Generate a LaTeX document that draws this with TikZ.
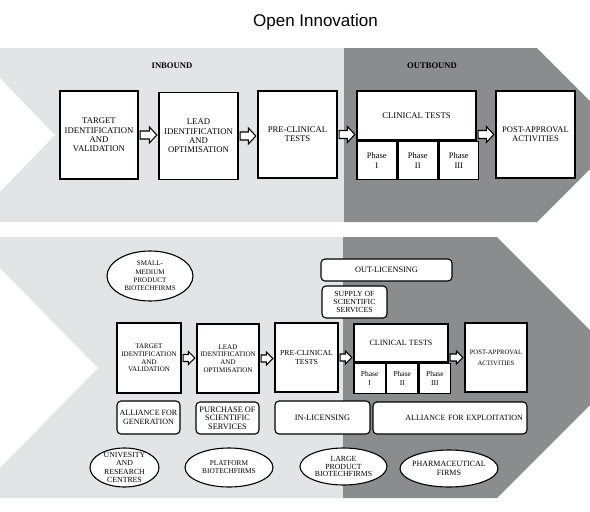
\documentclass[tikz,border=0pt]{standalone}
\usepackage{fontspec}
\setmainfont{Liberation Serif}
\newfontfamily\titlefont{Liberation Sans}
\usetikzlibrary{shapes,calc,positioning}

\definecolor{inband}{RGB}{227,228,230}
\definecolor{outband}{RGB}{139,140,142}

\begin{document}
\begin{tikzpicture}[x=1pt, y=-1pt,
    stage/.style={draw, fill=white, line width=1.3pt, inner sep=1pt, align=center},
    bigtxt/.style={font=\fontsize{8.7}{9.3}\selectfont},
    smalltxt/.style={font=\fontsize{7}{7.7}\selectfont},
    deal/.style={draw, fill=white, rounded corners=4pt, line width=1.1pt, inner sep=1pt, align=center, font=\fontsize{8}{8.4}\selectfont},
    firm/.style={ellipse, draw, fill=white, line width=1.1pt, inner sep=0pt},
    firmtext/.style={align=center, inner sep=0pt, font=\fontsize{7.8}{8.2}\selectfont},
    barrow/.style n args={3}{draw, fill=white, line width=1.1pt,
        to path={let \p1=(\tikztostart), \p2=(\tikztotarget) in
            (\x1+1.5pt,\y1+#1) -- (\x2-#3-1.5pt,\y1+#1) -- (\x2-#3-1.5pt,\y1+#2) -- (\x2-1.5pt,\y1)
            -- (\x2-#3-1.5pt,\y1-#2) -- (\x2-#3-1.5pt,\y1-#1) -- (\x1+1.5pt,\y1-#1) -- cycle}}]
    \useasboundingbox (0,0) rectangle (590,512);

    % bands
    \fill[inband] (0,48) -- (344,48) -- (344,222) -- (0,222) -- (0,192) -- (55,135) -- (0,78) -- cycle;
    \fill[outband] (344,48) -- (537,48) -- (590,101) -- (590,169) -- (537,222) -- (344,222) -- cycle;
    \fill[inband] (0,237) -- (343,237) -- (343,498) -- (0,498) -- (0,468) -- (98,368) -- (0,268) -- cycle;
    \fill[outband] (343,237) -- (497,237) -- (590,330) -- (590,405) -- (497,498) -- (343,498) -- cycle;

    \node[font=\titlefont\fontsize{17}{17}\selectfont] (title) at (315.5,22) {Open Innovation};
    \node[font=\bfseries\fontsize{8.6}{8.6}\selectfont] (inbound) at (172,66) {INBOUND};
    \node[font=\bfseries\fontsize{8.6}{8.6}\selectfont] (outbound) at (432,66) {OUTBOUND};

    % top chain
    \node[stage, bigtxt, minimum width=78, minimum height=88] (target) at (99,135) {TARGET\\IDENTIFICATION\\AND\\VALIDATION};
    \node[stage, bigtxt, minimum width=79, minimum height=87] (lead) at (198.5,136) {LEAD\\IDENTIFICATION\\AND\\OPTIMISATION};
    \node[stage, bigtxt, minimum width=79, minimum height=87] (pre) at (297.5,134.5) {PRE-CLINICAL\\TESTS};
    \node[stage, bigtxt, minimum width=119, minimum height=49] (clin) at (416.5,115.5) {CLINICAL TESTS};
    \node[stage, font=\fontsize{8.5}{10}\selectfont, minimum width=39.67, minimum height=38, anchor=north west] (ph1) at (clin.south west) {Phase\\I};
    \node[stage, font=\fontsize{8.5}{10}\selectfont, minimum width=39.67, minimum height=38, anchor=north west] (ph2) at (ph1.north east) {Phase\\II};
    \node[stage, font=\fontsize{8.5}{10}\selectfont, minimum width=39.67, minimum height=38, anchor=north west] (ph3) at (ph2.north east) {Phase\\III};
    \draw[line width=2.2pt] (clin.south west) -- (clin.south east);
    \node[stage, font=\fontsize{8.5}{9.3}\selectfont, minimum width=79, minimum height=87] (post) at (535.5,134.5) {POST-APPROVAL\\ACTIVITIES};

    \draw[barrow={4pt}{8pt}{7.5pt}] (target.east) to (lead.west);
    \draw[barrow={4pt}{8pt}{7.5pt}] (lead.east) to (pre.west);
    \draw[barrow={4pt}{8pt}{7.5pt}] (pre.east) to (clin.west |- pre.east);
    \draw[barrow={4pt}{8pt}{7.5pt}] (clin.east |- post.west) to (post.west);

    % bottom chain
    \node[stage, smalltxt, minimum width=64, minimum height=70] (btarget) at (149,358) {TARGET\\IDENTIFICATION\\AND\\VALIDATION};
    \node[stage, smalltxt, minimum width=62, minimum height=69] (blead) at (228,358.5) {LEAD\\IDENTIFICATION\\AND\\OPTIMISATION};
    \node[stage, font=\fontsize{7.7}{8.7}\selectfont, minimum width=63, minimum height=69] (bpre) at (306.5,357.5) {PRE-CLINICAL\\TESTS};
    \node[stage, font=\fontsize{8}{8}\selectfont, minimum width=94, minimum height=38] (bclin) at (401,343) {CLINICAL TESTS};
    \node[stage, font=\fontsize{7.5}{8.3}\selectfont, minimum width=31.33, minimum height=30, anchor=north west] (bph1) at (bclin.south west) {Phase\\I};
    \node[stage, font=\fontsize{7.5}{8.3}\selectfont, minimum width=31.33, minimum height=30, anchor=north west] (bph2) at (bph1.north east) {Phase\\II};
    \node[stage, font=\fontsize{7.5}{8.3}\selectfont, minimum width=31.33, minimum height=30, anchor=north west] (bph3) at (bph2.north east) {Phase\\III};
    \draw[line width=2pt] (bclin.south west) -- (bclin.south east);
    \node[stage, font=\fontsize{6.7}{11}\selectfont, minimum width=62, minimum height=69] (bpost) at (496,357.5) {POST-APPROVAL\\ACTIVITIES};

    \draw[barrow={3.5pt}{6.5pt}{6.5pt}] (btarget.east) to (blead.west);
    \draw[barrow={3.5pt}{6.5pt}{6.5pt}] (blead.east) to (bpre.west);
    \draw[barrow={3.5pt}{6.5pt}{6.5pt}] (bpre.east) to (bclin.west |- bpre.east);
    \draw[barrow={3.5pt}{6.5pt}{6.5pt}] (bclin.east |- bpost.west) to (bpost.west);

    % deals
    \node[deal, font=\fontsize{8.3}{8.3}\selectfont, minimum width=131, minimum height=22] (outlic) at (386.5,270) {OUT-LICENSING};
    \node[deal, font=\fontsize{7.8}{7.8}\selectfont, minimum width=65, minimum height=32] (supply) at (354.5,302) {SUPPLY OF\\SCIENTIFIC\\SERVICES};
    \node[deal, minimum width=63, minimum height=33] (allgen) at (148.5,417.5) {ALLIANCE FOR\\GENERATION};
    \node[deal, font=\fontsize{8.3}{8.5}\selectfont, minimum width=63, minimum height=32] (purchase) at (227.5,418) {PURCHASE OF\\SCIENTIFIC\\SERVICES};
    \node[deal, font=\fontsize{8.3}{8.3}\selectfont, minimum width=95, minimum height=33] (inlic) at (322.5,417.5) {IN-LICENSING};
    \node[deal, minimum width=154, minimum height=32, text width=146, align=right] (allexp) at (450,418) {ALLIANCE FOR EXPLOITATION};

    % firms
    \node[firm, minimum width=86, minimum height=50] (smb) at (150,276) {};
    \node[firmtext, font=\fontsize{7}{8.2}\selectfont] (smbtext) at (smb) {SMALL-\\MEDIUM\\PRODUCT\\BIOTECHFIRMS};
    \node[firm, minimum width=69, minimum height=39] (uni) at (124.5,467.5) {};
    \node[firmtext] (unitext) at (uni) {UNIVESITY\\AND\\RESEARCH\\CENTRES};
    \node[firm, minimum width=88, minimum height=39] (plat) at (229,467.5) {};
    \node[firmtext, font=\fontsize{7.3}{8}\selectfont] (plattext) at (plat) {PLATFORM\\BIOTECHFIRMS};
    \node[firm, minimum width=87, minimum height=37] (large) at (343.5,466.5) {};
    \node[firmtext, font=\fontsize{7.8}{7.4}\selectfont] (largetext) at (large) {LARGE\\PRODUCT\\BIOTECHFIRMS};
    \node[firm, minimum width=98, minimum height=37] (pharma) at (449,468.5) {};
    \node[firmtext, font=\fontsize{8}{8.5}\selectfont] (pharmatext) at (pharma) {PHARMACEUTICAL\\FIRMS};
\end{tikzpicture}
\end{document}
